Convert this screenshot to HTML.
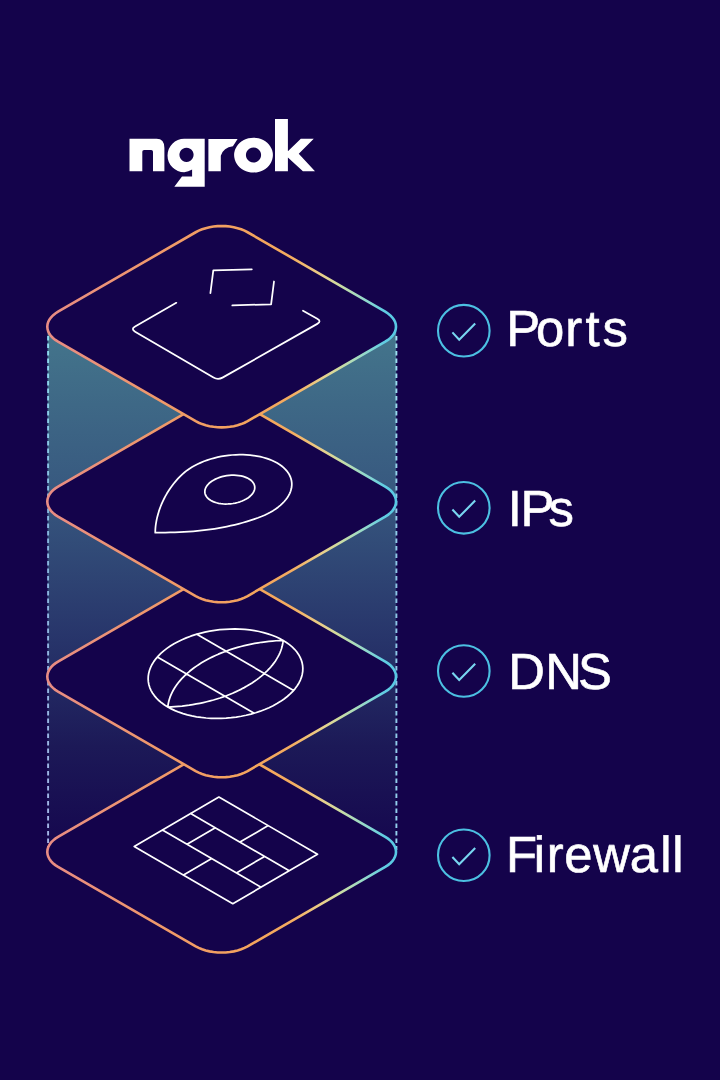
<!DOCTYPE html>
<html lang="en"><head><meta charset="utf-8"><title>ngrok</title>
<style>html,body{margin:0;padding:0;background:#14034b;}body{width:720px;height:1080px;overflow:hidden;font-family:"Liberation Sans",sans-serif;}svg{display:block;will-change:transform;}</style></head>
<body>
<svg width="720" height="1080" viewBox="0 0 720 1080">
<defs>
<linearGradient id="pg" gradientUnits="userSpaceOnUse" x1="47" y1="0" x2="396" y2="0"><stop offset="0" stop-color="#e88c84"/><stop offset="0.35" stop-color="#f09a68"/><stop offset="0.62" stop-color="#f4a65c"/><stop offset="0.70" stop-color="#f4ac60"/><stop offset="0.745" stop-color="#f0be74"/><stop offset="0.79" stop-color="#e8d08c"/><stop offset="0.835" stop-color="#d0dca0"/><stop offset="0.875" stop-color="#b0dcb8"/><stop offset="0.92" stop-color="#8cd8d0"/><stop offset="0.963" stop-color="#62cde2"/><stop offset="1" stop-color="#58c8e4"/></linearGradient>
<linearGradient id="panel" gradientUnits="userSpaceOnUse" x1="0" y1="326" x2="0" y2="852"><stop offset="0" stop-color="#44768c"/><stop offset="0.3" stop-color="#385a80"/><stop offset="0.6" stop-color="#27346a"/><stop offset="0.8" stop-color="#1c1957"/><stop offset="1" stop-color="#15064e"/></linearGradient>
<linearGradient id="dash" gradientUnits="userSpaceOnUse" x1="0" y1="330" x2="0" y2="850"><stop offset="0" stop-color="#8edcf0"/><stop offset="0.4" stop-color="#86b4de"/><stop offset="1" stop-color="#a4b4e6"/></linearGradient>
<linearGradient id="dashr" gradientUnits="userSpaceOnUse" x1="0" y1="330" x2="0" y2="850"><stop offset="0" stop-color="#9ee2f2"/><stop offset="0.5" stop-color="#8cc4e6"/><stop offset="1" stop-color="#94d2ee"/></linearGradient>
</defs>
<rect x="47.6" y="326" width="348.6" height="526" fill="url(#panel)"/>
<path d="M48.1 336V850" stroke="url(#dash)" stroke-width="1.9" stroke-dasharray="4.4 3.1" fill="none"/>
<path d="M396.4 336V850" stroke="url(#dashr)" stroke-width="1.9" stroke-dasharray="4.4 3.1" fill="none"/>
<path d="M385.24 836.9 L387.98 838.67 L390.37 840.61 L392.36 842.7 L393.94 844.89 L395.08 847.18 L395.77 849.52 L396 851.9 L395.77 854.28 L395.08 856.62 L393.94 858.91 L392.36 861.1 L390.37 863.19 L387.98 865.13 L385.24 866.9 L247.63 946.35 L244.56 947.93 L241.2 949.31 L237.59 950.46 L233.79 951.37 L229.83 952.03 L225.76 952.43 L221.65 952.56 L217.54 952.43 L213.47 952.03 L209.51 951.37 L205.71 950.46 L202.1 949.31 L198.74 947.93 L195.67 946.35 L58.06 866.9 L55.32 865.13 L52.93 863.19 L50.94 861.1 L49.36 858.91 L48.22 856.62 L47.53 854.28 L47.3 851.9 L47.53 849.52 L48.22 847.18 L49.36 844.89 L50.94 842.7 L52.93 840.61 L55.32 838.67 L58.06 836.9 L195.67 757.45 L198.74 755.87 L202.1 754.49 L205.71 753.34 L209.51 752.43 L213.47 751.77 L217.54 751.37 L221.65 751.24 L225.76 751.37 L229.83 751.77 L233.79 752.43 L237.59 753.34 L241.2 754.49 L244.56 755.87 L247.63 757.45Z" fill="#14034b" stroke="url(#pg)" stroke-width="2.6"/>
<path d="M218.9 797 L317.5 854.2 L232.8 903.7 L134.2 846.5ZM190.67 813.5L289.27 870.7M162.43 830L261.03 887.2M268.2 825.6L239.97 842.1M215.32 827.8L187.08 844.3M264.62 856.4L236.38 872.9M211.73 858.6L183.5 875.1" fill="none" stroke="#fff" stroke-width="1.7" stroke-linecap="round" stroke-linejoin="round"/>
<path d="M385.24 661.6 L387.98 663.37 L390.37 665.31 L392.36 667.4 L393.94 669.59 L395.08 671.88 L395.77 674.22 L396 676.6 L395.77 678.98 L395.08 681.32 L393.94 683.61 L392.36 685.8 L390.37 687.89 L387.98 689.83 L385.24 691.6 L247.63 771.05 L244.56 772.63 L241.2 774.01 L237.59 775.16 L233.79 776.07 L229.83 776.73 L225.76 777.13 L221.65 777.26 L217.54 777.13 L213.47 776.73 L209.51 776.07 L205.71 775.16 L202.1 774.01 L198.74 772.63 L195.67 771.05 L58.06 691.6 L55.32 689.83 L52.93 687.89 L50.94 685.8 L49.36 683.61 L48.22 681.32 L47.53 678.98 L47.3 676.6 L47.53 674.22 L48.22 671.88 L49.36 669.59 L50.94 667.4 L52.93 665.31 L55.32 663.37 L58.06 661.6 L195.67 582.15 L198.74 580.57 L202.1 579.19 L205.71 578.04 L209.51 577.13 L213.47 576.47 L217.54 576.07 L221.65 575.94 L225.76 576.07 L229.83 576.47 L233.79 577.13 L237.59 578.04 L241.2 579.19 L244.56 580.57 L247.63 582.15Z" fill="#14034b" stroke="url(#pg)" stroke-width="2.6"/>
<path d="M277 703.6 L273.12 705.71 L269.03 707.69 L264.75 709.52 L260.31 711.2 L255.72 712.72 L251 714.07 L246.17 715.24 L241.25 716.24 L236.26 717.06 L231.23 717.69 L226.18 718.14 L221.12 718.39 L216.08 718.45 L211.07 718.32 L206.14 718 L201.28 717.49 L196.53 716.79 L191.9 715.91 L187.42 714.84 L183.1 713.6 L178.96 712.19 L175.02 710.62 L171.29 708.88 L167.8 707 L164.56 704.97 L161.57 702.81 L158.86 700.53 L156.44 698.13 L154.31 695.62 L152.48 693.02 L150.97 690.34 L149.78 687.59 L148.91 684.78 L148.37 681.92 L148.16 679.02 L148.28 676.1 L148.74 673.18 L149.52 670.25 L150.62 667.34 L152.05 664.46 L153.79 661.61 L155.84 658.82 L158.19 656.09 L160.82 653.44 L163.73 650.87 L166.91 648.4 L170.34 646.04 L174 643.8 L177.88 641.69 L181.97 639.71 L186.25 637.88 L190.69 636.2 L195.28 634.68 L200 633.33 L204.83 632.16 L209.75 631.16 L214.74 630.34 L219.77 629.71 L224.82 629.26 L229.88 629.01 L234.92 628.95 L239.93 629.08 L244.86 629.4 L249.72 629.91 L254.47 630.61 L259.1 631.49 L263.58 632.56 L267.9 633.8 L272.04 635.21 L275.98 636.78 L279.71 638.52 L283.2 640.4 L286.44 642.43 L289.43 644.59 L292.14 646.87 L294.56 649.27 L296.69 651.78 L298.52 654.38 L300.03 657.06 L301.22 659.81 L302.09 662.62 L302.63 665.48 L302.84 668.38 L302.72 671.3 L302.26 674.22 L301.48 677.15 L300.38 680.06 L298.95 682.94 L297.21 685.79 L295.16 688.58 L292.81 691.31 L290.18 693.96 L287.27 696.53 L284.09 699 L280.66 701.36ZM283.2 640.4 L282.94 642.47 L282.57 644.54 L282.08 646.61 L281.47 648.68 L280.75 650.74 L279.92 652.8 L278.97 654.85 L277.9 656.88 L276.73 658.9 L275.45 660.91 L274.05 662.89 L272.55 664.86 L270.95 666.8 L269.24 668.72 L267.42 670.61 L265.51 672.47 L263.5 674.3 L261.4 676.1 L259.19 677.87 L256.9 679.6 L254.52 681.29 L252.06 682.94 L249.5 684.54 L246.87 686.11 L244.16 687.63 L241.38 689.1 L238.52 690.52 L235.59 691.9 L232.6 693.22 L229.55 694.48 L226.43 695.7 L223.26 696.86 L220.04 697.96 L216.76 699 L213.44 699.99 L210.08 700.91 L206.68 701.77 L203.25 702.57 L199.78 703.31 L196.29 703.98 L192.77 704.59 L189.23 705.14 L185.68 705.61 L182.11 706.03 L178.54 706.37 L174.96 706.65 L171.38 706.86 L167.8 707 L168.06 704.93 L168.43 702.86 L168.92 700.79 L169.53 698.72 L170.25 696.66 L171.08 694.6 L172.03 692.55 L173.1 690.52 L174.27 688.5 L175.55 686.49 L176.95 684.51 L178.45 682.54 L180.05 680.6 L181.76 678.68 L183.58 676.79 L185.49 674.93 L187.5 673.1 L189.6 671.3 L191.81 669.53 L194.1 667.8 L196.48 666.11 L198.94 664.46 L201.5 662.86 L204.13 661.29 L206.84 659.77 L209.62 658.3 L212.48 656.88 L215.41 655.5 L218.4 654.18 L221.45 652.92 L224.57 651.7 L227.74 650.54 L230.96 649.44 L234.24 648.4 L237.56 647.41 L240.92 646.49 L244.32 645.63 L247.75 644.83 L251.22 644.09 L254.71 643.42 L258.23 642.81 L261.77 642.26 L265.32 641.79 L268.89 641.37 L272.46 641.03 L276.04 640.75 L279.62 640.54ZM157.37 656.99L254.16 713.19M196.84 634.21L293.63 690.41" fill="none" stroke="#fff" stroke-width="1.75" stroke-linecap="round" stroke-linejoin="round"/>
<path d="M385.24 486.6 L387.98 488.37 L390.37 490.31 L392.36 492.4 L393.94 494.59 L395.08 496.88 L395.77 499.22 L396 501.6 L395.77 503.98 L395.08 506.32 L393.94 508.61 L392.36 510.8 L390.37 512.89 L387.98 514.83 L385.24 516.6 L247.63 596.05 L244.56 597.63 L241.2 599.01 L237.59 600.16 L233.79 601.07 L229.83 601.73 L225.76 602.13 L221.65 602.26 L217.54 602.13 L213.47 601.73 L209.51 601.07 L205.71 600.16 L202.1 599.01 L198.74 597.63 L195.67 596.05 L58.06 516.6 L55.32 514.83 L52.93 512.89 L50.94 510.8 L49.36 508.61 L48.22 506.32 L47.53 503.98 L47.3 501.6 L47.53 499.22 L48.22 496.88 L49.36 494.59 L50.94 492.4 L52.93 490.31 L55.32 488.37 L58.06 486.6 L195.67 407.15 L198.74 405.57 L202.1 404.19 L205.71 403.04 L209.51 402.13 L213.47 401.47 L217.54 401.07 L221.65 400.94 L225.76 401.07 L229.83 401.47 L233.79 402.13 L237.59 403.04 L241.2 404.19 L244.56 405.57 L247.63 407.15Z" fill="#14034b" stroke="url(#pg)" stroke-width="2.6"/>
<path d="M155.24 532.65 L160.29 532.63 L165.24 532.57 L170.11 532.47 L174.88 532.32 L179.57 532.13 L184.18 531.9 L188.72 531.61 L193.18 531.27 L197.57 530.88 L201.91 530.44 L206.18 529.94 L210.39 529.39 L214.56 528.78 L218.68 528.1 L222.75 527.37 L226.79 526.58 L230.79 525.72 L234.75 524.79 L238.7 523.8 L242.61 522.74 L246.51 521.61 L250.4 520.4 L254.27 519.12 L258.14 517.77 L261.37 516.54 L264.5 515.2 L267.5 513.76 L270.38 512.24 L273.11 510.63 L275.68 508.93 L278.1 507.17 L280.34 505.34 L282.4 503.44 L284.27 501.5 L285.95 499.5 L287.43 497.47 L288.7 495.41 L289.76 493.33 L290.6 491.23 L291.23 489.12 L291.63 487.01 L291.81 484.91 L291.77 482.83 L291.51 480.77 L291.02 478.74 L290.32 476.75 L289.39 474.81 L288.25 472.92 L286.91 471.09 L285.36 469.33 L283.6 467.64 L281.66 466.03 L279.53 464.51 L277.23 463.08 L274.75 461.75 L272.12 460.52 L269.34 459.4 L266.41 458.39 L263.36 457.49 L260.19 456.72 L256.92 456.06 L253.56 455.53 L250.11 455.12 L246.6 454.84 L243.03 454.69 L239.42 454.66 L235.78 454.77 L232.13 455 L228.48 455.36 L224.84 455.85 L221.23 456.46 L217.66 457.19 L214.14 458.05 L210.69 459.02 L207.32 460.1 L204.04 461.29 L200.87 462.58 L197.81 463.98 L194.88 465.46 L192.09 467.04 L189.45 468.7 L186.96 470.43 L184.65 472.24 L182.51 474.11 L180.16 476.37 L177.92 478.7 L175.8 481.08 L173.79 483.5 L171.9 485.98 L170.11 488.48 L168.44 491.02 L166.87 493.58 L165.41 496.16 L164.05 498.75 L162.79 501.34 L161.64 503.94 L160.59 506.52 L159.63 509.09 L158.78 511.64 L158.02 514.17 L157.35 516.66 L156.78 519.11 L156.3 521.52 L155.91 523.87 L155.61 526.17 L155.4 528.4 L155.28 530.56 L155.24 532.65ZM246.15 499.04 L244.22 500.06 L242.15 500.98 L239.97 501.8 L237.68 502.49 L235.32 503.06 L232.91 503.5 L230.46 503.81 L228.01 503.98 L225.58 504.01 L223.19 503.91 L220.86 503.66 L218.62 503.28 L216.48 502.77 L214.47 502.13 L212.61 501.37 L210.92 500.5 L209.41 499.52 L208.09 498.45 L206.99 497.29 L206.1 496.06 L205.44 494.76 L205.02 493.42 L204.83 492.04 L204.89 490.63 L205.18 489.22 L205.72 487.81 L206.48 486.41 L207.47 485.05 L208.67 483.73 L210.08 482.47 L211.68 481.27 L213.45 480.16 L215.38 479.14 L217.45 478.22 L219.63 477.4 L221.92 476.71 L224.28 476.14 L226.69 475.7 L229.14 475.39 L231.59 475.22 L234.02 475.19 L236.41 475.29 L238.74 475.54 L240.98 475.92 L243.12 476.43 L245.13 477.07 L246.99 477.83 L248.68 478.7 L250.19 479.68 L251.51 480.75 L252.61 481.91 L253.5 483.14 L254.16 484.44 L254.58 485.78 L254.77 487.16 L254.71 488.57 L254.42 489.98 L253.88 491.39 L253.12 492.79 L252.13 494.15 L250.93 495.47 L249.52 496.73 L247.92 497.93Z" fill="none" stroke="#fff" stroke-width="1.75" stroke-linecap="round" stroke-linejoin="round"/>
<path d="M385.24 311.7 L387.98 313.47 L390.37 315.41 L392.36 317.5 L393.94 319.69 L395.08 321.98 L395.77 324.32 L396 326.7 L395.77 329.08 L395.08 331.42 L393.94 333.71 L392.36 335.9 L390.37 337.99 L387.98 339.93 L385.24 341.7 L247.63 421.15 L244.56 422.73 L241.2 424.11 L237.59 425.26 L233.79 426.17 L229.83 426.83 L225.76 427.23 L221.65 427.36 L217.54 427.23 L213.47 426.83 L209.51 426.17 L205.71 425.26 L202.1 424.11 L198.74 422.73 L195.67 421.15 L58.06 341.7 L55.32 339.93 L52.93 337.99 L50.94 335.9 L49.36 333.71 L48.22 331.42 L47.53 329.08 L47.3 326.7 L47.53 324.32 L48.22 321.98 L49.36 319.69 L50.94 317.5 L52.93 315.41 L55.32 313.47 L58.06 311.7 L195.67 232.25 L198.74 230.67 L202.1 229.29 L205.71 228.14 L209.51 227.23 L213.47 226.57 L217.54 226.17 L221.65 226.04 L225.76 226.17 L229.83 226.57 L233.79 227.23 L237.59 228.14 L241.2 229.29 L244.56 230.67 L247.63 232.25Z" fill="#14034b" stroke="url(#pg)" stroke-width="2.6"/>
<path d="M176.3 302.8L135.11 326.51Q130.6 329.1 135.09 331.72L213.51 377.58Q218 380.2 222.52 377.63L317.28 323.87Q321.8 321.3 317.27 318.75L303 310.7M210.4 293.2 L213.3 270.4 L251.8 269.3M232.3 305.4 L271.1 304.3 L274 281.5" fill="none" stroke="#fff" stroke-width="1.75" stroke-linecap="round" stroke-linejoin="round"/>
<g fill="#fff"><path d="M129.5 138.8H156.6Q164.4 138.8 164.4 148V171.3H153V151.8Q153 150 151.2 150H144.1Q142.3 150 142.3 151.8V171.3H129.5Z"/><path fill-rule="evenodd" d="M184.2 138.8H204.7V186.8H174.3L182 176.6H192.1V169.6A16.7 16.7 0 0 1 184.2 172.2A16.7 16.7 0 0 1 184.2 138.8ZM186.5 147.7a7.1 7.1 0 1 0 0.01 0Z"/><path d="M208.4 138.9H237.6L232.9 146.3Q223.4 147.4 220.8 155.8V171.3H208.4Z"/><path fill-rule="evenodd" d="M253.5 137.7a19.4 17.4 0 1 0 0.01 0ZM253.5 147.4a7.6 7.6 0 1 0 0.01 0Z"/><path d="M275 119.1H287.9V151.2L300.8 138.8H313.75L298.75 153.7L315 171.3H302.9L287.9 157.4V171.3H275Z"/></g>
<circle cx="463.8" cy="330.7" r="25.8" fill="none" stroke="#4cc0e2" stroke-width="2.1"/>
<path d="M452.4 332.4 L459.2 339.7 L475.2 323.5" fill="none" stroke="#78d6f0" stroke-width="2.1" stroke-linecap="butt" stroke-linejoin="miter"/>
<text x="506.16 535.97 565.28 585.54 602.61" y="346.4" font-family="'Liberation Sans', sans-serif" font-size="50.8" fill="#fff" stroke="#fff" stroke-width="0.6" text-rendering="geometricPrecision">Ports</text>
<circle cx="463.8" cy="507.8" r="25.8" fill="none" stroke="#4cc0e2" stroke-width="2.1"/>
<path d="M452.4 509.5 L459.2 516.8 L475.2 500.6" fill="none" stroke="#78d6f0" stroke-width="2.1" stroke-linecap="butt" stroke-linejoin="miter"/>
<text x="507.69 520.51 548.56" y="526.4" font-family="'Liberation Sans', sans-serif" font-size="50.8" fill="#fff" stroke="#fff" stroke-width="0.6" text-rendering="geometricPrecision">IPs</text>
<circle cx="463.8" cy="671" r="25.8" fill="none" stroke="#4cc0e2" stroke-width="2.1"/>
<path d="M452.4 672.7 L459.2 680 L475.2 663.8" fill="none" stroke="#78d6f0" stroke-width="2.1" stroke-linecap="butt" stroke-linejoin="miter"/>
<text x="508.34 545.29 578.02" y="688.7" font-family="'Liberation Sans', sans-serif" font-size="50.8" fill="#fff" stroke="#fff" stroke-width="0.6" text-rendering="geometricPrecision">DNS</text>
<circle cx="463.8" cy="855.25" r="25.8" fill="none" stroke="#4cc0e2" stroke-width="2.1"/>
<path d="M452.4 856.95 L459.2 864.25 L475.2 848.05" fill="none" stroke="#78d6f0" stroke-width="2.1" stroke-linecap="butt" stroke-linejoin="miter"/>
<text x="505.92 533.87 546.85 564.32 593.18 629.64 660.14 672.14" y="872.1" font-family="'Liberation Sans', sans-serif" font-size="50.8" fill="#fff" stroke="#fff" stroke-width="0.6" text-rendering="geometricPrecision">Firewall</text>
</svg>
</body></html>
